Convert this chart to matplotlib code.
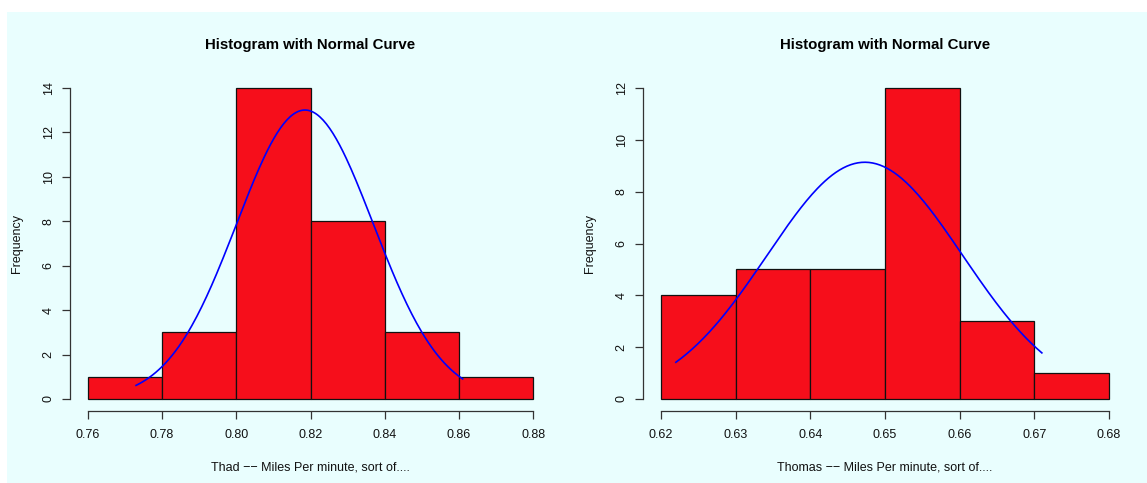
import numpy as np
import matplotlib
matplotlib.use('Agg')
import matplotlib.pyplot as plt
from matplotlib.patches import Rectangle

plt.rcParams['font.family'] = ['Liberation Sans', 'DejaVu Sans']

# bin edges and counts
thad_edges = [0.76, 0.78, 0.80, 0.82, 0.84, 0.86, 0.88]
thad_counts = [1, 3, 14, 8, 3, 1]
thad_mean = 0.8185
thad_sd = 0.0184
thad_range = [0.773, 0.861]

thomas_edges = [0.62, 0.63, 0.64, 0.65, 0.66, 0.67, 0.68]
thomas_counts = [4, 5, 5, 12, 3, 1]
thomas_mean = 0.6473
thomas_sd = 0.0131
thomas_range = [0.622, 0.671]

W, H = 1147, 483
bg = '#E9FEFE'
bar_col = '#F60E1B'


def px_axes(fig, x0, y0, x1, y1):
    # pixel box (top-left origin) -> figure fraction
    return fig.add_axes([x0 / W, 1 - y1 / H, (x1 - x0) / W, (y1 - y0) / H])


def hist_panel(ax, edges, counts, mean, sd, xr, yticks, xlabel):
    edges = np.array(edges)
    counts = np.array(counts)
    ax.set_facecolor('none')
    ax.bar(edges[:-1], counts, width=np.diff(edges), align='edge',
           color=bar_col, edgecolor='#111111', linewidth=0.9)

    n = counts.sum()
    bw = edges[1] - edges[0]
    xs = np.linspace(xr[0], xr[1], 200)
    ys = n * bw * np.exp(-0.5 * ((xs - mean) / sd) ** 2) / (sd * np.sqrt(2 * np.pi))
    ax.plot(xs, ys, color='#0000FF', linewidth=1.2)

    span = edges[-1] - edges[0]
    ax.set_xlim(edges[0] - 0.04 * span, edges[-1] + 0.04 * span)
    top = yticks[-1]
    ax.set_ylim(-0.04 * top, top * 1.04)

    for s in ['top', 'right']:
        ax.spines[s].set_visible(False)
    ax.spines['left'].set_bounds(0, top)
    ax.spines['bottom'].set_bounds(edges[0], edges[-1])
    for s in ['left', 'bottom']:
        ax.spines[s].set_color('#333333')
        ax.spines[s].set_linewidth(0.9)

    ax.set_xticks(edges)
    ax.set_xticklabels(['%.2f' % e for e in edges])
    ax.set_yticks(yticks)
    ax.tick_params(axis='both', length=6, width=0.9, color='#333333',
                   labelsize=9, labelcolor='#111111')
    ax.tick_params(axis='x', pad=7)
    ax.tick_params(axis='y', pad=5)
    plt.setp(ax.get_yticklabels(), rotation=90, va='center')

    ax.text(0.5, 1.091, 'Histogram with Normal Curve', transform=ax.transAxes,
            ha='center', va='center', fontsize=10.8, fontweight='bold')
    ax.text(0.5, -0.167, xlabel, transform=ax.transAxes,
            ha='center', va='center', fontsize=9, color='#111111')
    ax.text(-0.110, 0.5, 'Frequency', transform=ax.transAxes, rotation=90,
            ha='center', va='center', fontsize=9, color='#111111')


fig = plt.figure(figsize=(W / 100, H / 100), dpi=100, facecolor='white')
fig.patches.append(Rectangle((7 / W, 0), 1 - 7 / W, 1 - 12 / H,
                             transform=fig.transFigure, facecolor=bg,
                             edgecolor='none', zorder=-10))

ax1 = px_axes(fig, 70, 75.6, 551, 411.4)
hist_panel(ax1, thad_edges, thad_counts, thad_mean, thad_sd, thad_range,
           [0, 2, 4, 6, 8, 10, 12, 14], 'Thad \u2212\u2212 Miles Per minute, sort of....')

ax2 = px_axes(fig, 643, 75.6, 1127, 411.4)
hist_panel(ax2, thomas_edges, thomas_counts, thomas_mean, thomas_sd, thomas_range,
           [0, 2, 4, 6, 8, 10, 12], 'Thomas \u2212\u2212 Miles Per minute, sort of....')

fig.savefig('out.png', dpi=100, facecolor='white')
